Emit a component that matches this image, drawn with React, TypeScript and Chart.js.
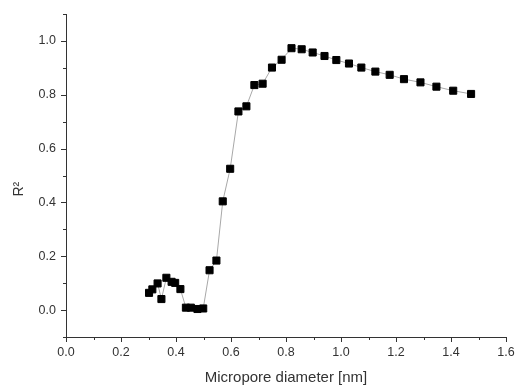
import React, { useEffect, useRef } from 'react';
import { Chart, registerables } from 'chart.js';

Chart.register(...registerables);

const diameters = [
  0.302, 0.314, 0.333, 0.347, 0.365, 0.384, 0.397, 0.416, 0.436, 0.454, 0.478, 0.499,
  0.522, 0.547, 0.570, 0.597, 0.627, 0.656, 0.685, 0.715, 0.749, 0.784, 0.820, 0.857,
  0.897, 0.940, 0.983, 1.029, 1.074, 1.125, 1.177, 1.229, 1.289, 1.347, 1.408, 1.473,
];
const r2Values = [
  0.064, 0.077, 0.099, 0.041, 0.120, 0.105, 0.101, 0.078, 0.009, 0.009, 0.004, 0.006,
  0.148, 0.184, 0.404, 0.525, 0.738, 0.757, 0.836, 0.841, 0.901, 0.930, 0.973, 0.969,
  0.957, 0.944, 0.929, 0.916, 0.901, 0.886, 0.874, 0.858, 0.846, 0.830, 0.815, 0.803,
];

const xMin = 0;
const xMax = 1.6;
const yMin = -0.1;
const yMax = 1.1;
const tickStep = 0.1;

const xTitle = 'Micropore diameter [nm]';
const yTitle = 'R\u00B2';

const FONT = "'Liberation Sans', Arial, Helvetica, sans-serif";
const TEXT = '#333333';
const AXIS = '#333333';

const isMajor = (v: number) => Math.round(v * 10) % 2 === 0;

const tickPlugin = {
  id: 'originTicks',
  afterDraw(chart: any) {
    const ctx = chart.ctx;
    const xs = chart.scales.x;
    const ys = chart.scales.y;
    ctx.save();
    ctx.strokeStyle = AXIS;
    ctx.lineWidth = 1;
    xs.ticks.forEach((t: any) => {
      const len = isMajor(t.value) ? 5 : 3;
      const px = Math.round(xs.getPixelForValue(t.value)) + 0.5;
      const base = Math.round(xs.top);
      ctx.beginPath();
      ctx.moveTo(px, base);
      ctx.lineTo(px, base + len);
      ctx.stroke();
    });
    ys.ticks.forEach((t: any) => {
      const len = isMajor(t.value) ? 5 : 3;
      const py = Math.round(ys.getPixelForValue(t.value)) + 0.5;
      const base = Math.round(ys.right);
      ctx.beginPath();
      ctx.moveTo(base, py);
      ctx.lineTo(base - len, py);
      ctx.stroke();
    });
    ctx.restore();
  },
};

export default function App() {
  const ref = useRef<HTMLCanvasElement | null>(null);

  useEffect(() => {
    if (!ref.current) return;
    const points = diameters.map((d, i) => ({ x: d, y: r2Values[i] }));
    const chart = new Chart(ref.current, {
      type: 'scatter',
      data: {
        datasets: [
          {
            data: points,
            showLine: true,
            borderColor: '#a8a8a8',
            borderWidth: 1,
            pointStyle: 'rect',
            pointRadius: 5,
            pointBorderWidth: 1,
            pointBackgroundColor: '#000000',
            pointBorderColor: '#000000',
            tension: 0,
          } as any,
        ],
      },
      options: {
        animation: false,
        responsive: true,
        maintainAspectRatio: false,
        layout: { padding: { left: 0, right: 11, top: 14, bottom: 0 } },
        plugins: {
          legend: { display: false },
          tooltip: { enabled: false },
        },
        scales: {
          x: {
            type: 'linear',
            min: xMin,
            max: xMax,
            grid: { display: false, drawTicks: false },
            border: { display: true, color: AXIS, width: 1 },
            ticks: {
              stepSize: tickStep,
              autoSkip: false,
              maxRotation: 0,
              padding: 8,
              color: TEXT,
              font: { family: FONT, size: 12.5 },
              callback: (v: any) => (isMajor(Number(v)) ? Number(v).toFixed(1) : ''),
            },
            title: {
              display: true,
              text: xTitle,
              color: TEXT,
              font: { family: FONT, size: 15 },
              padding: { top: 0, bottom: 0 },
            },
            afterFit: (s: any) => {
              s.height = 50;
              s.paddingLeft = 0;
              s.paddingRight = 0;
            },
          },
          y: {
            type: 'linear',
            min: yMin,
            max: yMax,
            grid: { display: false, drawTicks: false },
            border: { display: true, color: AXIS, width: 1 },
            ticks: {
              stepSize: tickStep,
              autoSkip: false,
              padding: 10,
              color: TEXT,
              font: { family: FONT, size: 12.5 },
              callback: (v: any) => (isMajor(Number(v)) ? Number(v).toFixed(1) : ''),
            },
            title: {
              display: true,
              text: yTitle + '       ',
              color: TEXT,
              font: { family: FONT, size: 14 },
              padding: { top: 11, bottom: 0 },
            },
            afterFit: (s: any) => {
              s.width = 66;
              s.paddingTop = 0;
              s.paddingBottom = 0;
            },
          },
        },
      } as any,
      plugins: [tickPlugin],
    });
    return () => chart.destroy();
  }, []);

  return (
    <div style={{ position: 'fixed', left: 0, top: 0, width: 517, height: 387, background: '#fff' }}>
      <canvas ref={ref} />
    </div>
  );
}
